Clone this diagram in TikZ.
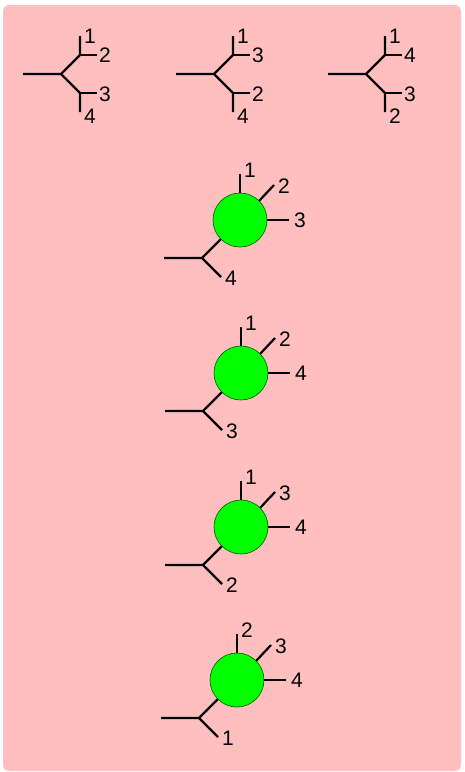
\documentclass[tikz,border=0pt]{standalone}
\usepackage{fontspec}
\setmainfont{Liberation Sans}
\usepackage{tikz}
\usetikzlibrary{positioning}
\usetikzlibrary{calc}

\begin{document}
\begin{tikzpicture}[x=1pt, y=-1pt, line width=2.2pt, font=\fontsize{21}{21}\selectfont,
    lbl/.style={inner sep=0pt},
    blob/.style={circle, draw=green!35!black, line width=0.6pt, fill=green, minimum size=54pt, inner sep=0pt}]
    \useasboundingbox (0,0) rectangle (465,772);
    \fill[red!25, rounded corners=6pt] (3,5) rectangle (461,771);

    % three trees on top
    \foreach \n/\dx/\a/\b/\c/\d in {1/0/1/2/3/4, 2/153/1/3/2/4, 3/305/1/4/3/2} {
        \begin{scope}[xshift=\dx]
            \coordinate (r\n) at (23,74);
            \coordinate (j\n) at (61,74);
            \coordinate (u\n) at (80,55);
            \coordinate (l\n) at (80,93);
            \coordinate (ua\n) at (80,36);
            \coordinate (ub\n) at (97,55);
            \coordinate (lc\n) at (97,93);
            \coordinate (ld\n) at (80,112);
            \node[lbl] (ta\n) at (90,36) {\a};
            \node[lbl] (tb\n) at (105,55) {\b};
            \node[lbl] (tc\n) at (105,94) {\c};
            \node[lbl] (td\n) at (90,116) {\d};
            \draw (r\n) -- (j\n) -- (u\n) -- (ua\n);
            \draw (u\n) -- (ub\n);
            \draw (j\n) -- (l\n) -- (ld\n);
            \draw (l\n) -- (lc\n);
        \end{scope}
    }

    % blobs
    \foreach \n/\cx/\cy/\a/\b/\c/\d in {1/240/220/1/2/3/4, 2/241/373/1/2/4/3, 3/241/527/1/3/4/2, 4/237/680/2/3/4/1} {
        \begin{scope}[shift={(\cx,\cy)}]
            \node[blob] (b\n) at (0,0) {};
            \coordinate (ea\n) at (0,-46);
            \coordinate (eb\n) at (34,-35);
            \coordinate (ec\n) at (49,0);
            \coordinate (bj\n) at (-38,38);
            \coordinate (br\n) at (-76,38);
            \coordinate (bs\n) at (-19,57);
            \node[lbl] (la\n) at (10,-50) {\a};
            \node[lbl] (lb\n) at (44,-34) {\b};
            \node[lbl] (lc\n) at (60,0) {\c};
            \node[lbl] (ld\n) at (-9,58) {\d};
            \draw (b\n.north) -- (ea\n);
            \draw (b\n.45) -- (eb\n);
            \draw (b\n.east) -- (ec\n);
            \draw (b\n.225) -- (bj\n);
            \draw (br\n) -- (bj\n) -- (bs\n);
        \end{scope}
    }
\end{tikzpicture}
\end{document}
